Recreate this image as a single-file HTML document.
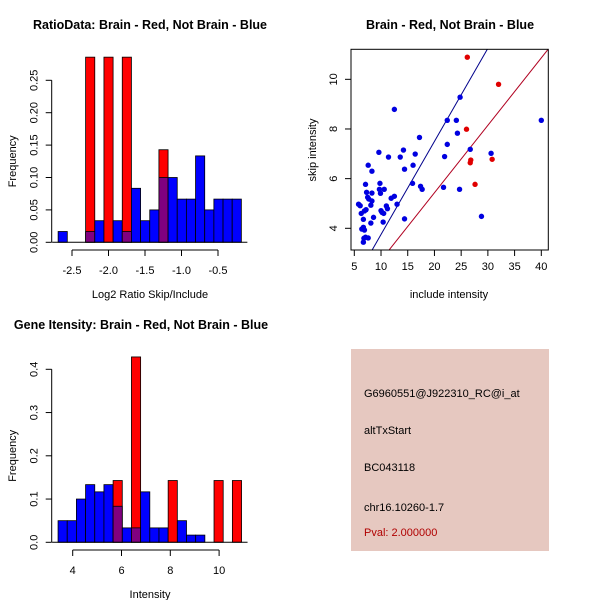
<!DOCTYPE html>
<html><head><meta charset="utf-8"><style>
body{margin:0;background:#fff}
svg{display:block;font-family:"Liberation Sans",sans-serif}
</style></head><body>
<svg id="c" width="600" height="600" xmlns="http://www.w3.org/2000/svg">
<rect x="0" y="0" width="600" height="600" fill="#fff"/>
<text x="150" y="29" text-anchor="middle" font-size="12.5" font-weight="bold">RatioData: Brain - Red, Not Brain - Blue</text>
<text x="450" y="29" text-anchor="middle" font-size="12.5" font-weight="bold">Brain - Red, Not Brain - Blue</text>
<text x="141" y="329" text-anchor="middle" font-size="12.5" font-weight="bold">Gene Itensity: Brain - Red, Not Brain - Blue</text>
<g id="h1"></g>
<g id="h2"></g>
<g id="sc"></g>
<g>
<rect x="351" y="349" width="198" height="202" fill="#e6c8c0"/>
<text x="364" y="397" font-size="11">G6960551@J922310_RC@i_at</text>
<text x="364" y="434" font-size="11">altTxStart</text>
<text x="364" y="471" font-size="11">BC043118</text>
<text x="364" y="511" font-size="11">chr16.10260-1.7</text>
<text x="364" y="536" font-size="11" fill="#b00000">Pval: 2.000000</text>
</g>
</svg>
<script>
const ratioBlue=[1/60,0,0,1/60,2/60,0,2/60,1/60,5/60,2/60,3/60,6/60,6/60,4/60,4/60,8/60,3/60,4/60,4/60,4/60];
const ratioRed=[0,0,0,2/7,0,2/7,0,2/7,0,0,0,1/7,0,0,0,0,0,0,0,0];
const ratioStart=-2.69, ratioWidth=0.1255;
const ratioXTicks=[-2.5,-2.0,-1.5,-1.0,-0.5];
const ratioYTicks=[0,0.05,0.10,0.15,0.20,0.25];
const intBlue=[3/60,3/60,6/60,8/60,7/60,8/60,5/60,2/60,2/60,7/60,2/60,2/60,0,3/60,1/60,1/60,0,0,0,0];
const intRed=[0,0,0,0,0,0,1/7,0,3/7,0,0,0,1/7,0,0,0,0,1/7,0,1/7];
const intStart=3.4, intWidth=0.376;
const intXTicks=[4,6,8,10];
const intYTicks=[0,0.1,0.2,0.3,0.4];
const scXTicks=[5,10,15,20,25,30,35,40];
const scYTicks=[4,6,8,10];
const redX=[26.15,32.0,26.0,26.8,26.7,30.8,27.6];
const redY=[10.89,9.80,7.99,6.75,6.64,6.78,5.77];
const blueX=[5.8,6.1,6.3,6.7,6.4,6.7,6.9,6.8,7.1,7.6,6.7,7.1,7.3,7.5,7.7,7.6,8.3,8.3,8.3,8.1,6.9,7.2,8.1,8.6,9.6,9.8,9.7,9.9,10.6,10.0,10.2,10.5,10.4,11.0,11.2,11.4,11.9,12.5,12.5,13.0,13.6,14.2,14.4,14.4,15.9,16.0,16.4,17.2,17.4,17.7,21.7,21.9,22.4,22.4,24.1,24.3,24.8,24.7,26.7,30.6,28.8,40.0];
const blueY=[4.97,4.91,4.60,4.36,3.97,4.04,3.93,3.60,3.64,3.61,3.44,5.77,5.45,5.25,5.18,6.54,6.30,5.42,5.10,4.93,4.70,4.75,4.21,4.44,7.06,5.81,5.57,5.41,5.57,4.71,4.64,4.60,4.25,4.90,4.79,6.87,5.21,5.29,8.79,4.97,6.87,7.15,6.38,4.38,5.81,6.54,6.99,7.66,5.69,5.57,5.65,6.89,7.38,8.35,8.35,7.83,9.28,5.57,7.18,7.02,4.48,8.35];
const blueSlope=0.375, redSlope=0.2716;

const NS='http://www.w3.org/2000/svg';
function mk(p,tag,a){const e=document.createElementNS(NS,tag);for(const k in a)e.setAttribute(k,a[k]);p.appendChild(e);return e;}

function hist(g,blue,red,start,width,xt,yt,sx,sy,x0,yBase,xAxisY,xlab,fmt){
  for(let i=0;i<blue.length;i++){
    const a=sx(start+i*width), b=sx(start+(i+1)*width);
    const bv=blue[i], rv=red[i];
    if(rv>0){const r=mk(g,'rect',{x:a,y:sy(rv),width:b-a,height:yBase-sy(rv),fill:'#ff0000',stroke:'#000','stroke-width':0.8});
      
      }
    if(bv>0){
      const bb=mk(g,'rect',{x:a,y:sy(bv),width:b-a,height:yBase-sy(bv),fill:(rv>0?'#800080':'#0000ff'),stroke:'#000','stroke-width':0.8});
      
      }
  }
  mk(g,'line',{x1:sx(start)-6,x2:sx(start+blue.length*width)+6,y1:yBase,y2:yBase,stroke:'#000','stroke-width':1});
  mk(g,'line',{x1:x0,x2:x0,y1:sy(yt[0]),y2:sy(yt[yt.length-1]),stroke:'#000'});
  yt.forEach(v=>{mk(g,'line',{x1:x0-6,x2:x0,y1:sy(v),y2:sy(v),stroke:'#000'});
    const t=mk(g,'text',{x:0,y:0,transform:`translate(${x0-14},${sy(v)}) rotate(-90)`,'text-anchor':'middle','font-size':11});
    t.textContent=fmt(v);
    
    });
  mk(g,'line',{x1:sx(xt[0]),x2:sx(xt[xt.length-1]),y1:xAxisY,y2:xAxisY,stroke:'#000'});
  xt.forEach(v=>{mk(g,'line',{x1:sx(v),x2:sx(v),y1:xAxisY,y2:xAxisY+6,stroke:'#000'});
    const t=mk(g,'text',{x:sx(v),y:xAxisY+24,'text-anchor':'middle','font-size':11});
    t.textContent=(v%1===0&&xt.some(q=>q%1!==0))?v.toFixed(1):String(v);
    
    });
  const xl=mk(g,'text',{x:150,y:xAxisY+48,'text-anchor':'middle','font-size':11});
  xl.textContent=xlab;
  
  
  const yl=mk(g,'text',{x:0,y:0,transform:`translate(16,${(sy(yt[0])+sy(yt[yt.length-1]))/2}) rotate(-90)`,'text-anchor':'middle','font-size':11});
  yl.textContent='Frequency';
  
  
}
hist(document.getElementById('h1'),ratioBlue,ratioRed,ratioStart,ratioWidth,ratioXTicks,ratioYTicks,
  v=>72+(v+2.5)*73, v=>242.3-v*648, 51.7,242.3,250,'Log2 Ratio Skip/Include',v=>v.toFixed(2));
hist(document.getElementById('h2'),intBlue,intRed,intStart,intWidth,intXTicks,intYTicks,
  v=>72.7+(v-4)*24.4, v=>542.3-v*432.5, 51.7,542.3,550,'Intensity',v=>v===0?'0.0':String(v));

(function(){
  const g=document.getElementById('sc');
  const sx=v=>354.3+(v-5)*5.343, sy=v=>228.3-(v-4)*24.83;
  const L=351,R=548.3,T=49.3,B=250;
  const cp=mk(g,'clipPath',{id:'cl'});mk(cp,'rect',{x:L,y:T,width:R-L,height:B-T});
  const lg=mk(g,'g',{'clip-path':'url(#cl)'});
  const bl=mk(lg,'line',{x1:sx(0),y1:sy(0),x2:sx(50),y2:sy(50*blueSlope),stroke:'#00008b','stroke-width':1});
  
  
  const rl=mk(lg,'line',{x1:sx(0),y1:sy(0),x2:sx(50),y2:sy(50*redSlope),stroke:'#b00020','stroke-width':1});
  
  
  blueX.forEach((x,i)=>{const c=mk(g,'circle',{cx:sx(x),cy:sy(blueY[i]),r:2.7,fill:'#0000e0'});
    
    });
  redX.forEach((x,i)=>{const c=mk(g,'circle',{cx:sx(x),cy:sy(redY[i]),r:2.7,fill:'#e00000'});
    
    });
  mk(g,'rect',{x:L,y:T,width:R-L,height:B-T,fill:'none',stroke:'#000'});
  mk(g,'line',{x1:sx(5),x2:sx(40),y1:B,y2:B,stroke:'#000'});
  scXTicks.forEach(v=>{mk(g,'line',{x1:sx(v),x2:sx(v),y1:B,y2:B+6,stroke:'#000'});
    const t=mk(g,'text',{x:sx(v),y:B+20,'text-anchor':'middle','font-size':11});t.textContent=v;
    
    });
  scYTicks.forEach(v=>{mk(g,'line',{x1:L-6,x2:L,y1:sy(v),y2:sy(v),stroke:'#000'});
    const t=mk(g,'text',{x:0,y:0,transform:`translate(${L-14},${sy(v)}) rotate(-90)`,'text-anchor':'middle','font-size':11});t.textContent=v;
    
    });
  const xl=mk(g,'text',{x:449,y:298,'text-anchor':'middle','font-size':11});xl.textContent='include intensity';
  
  
  const yl=mk(g,'text',{x:0,y:0,transform:'translate(316,150) rotate(-90)','text-anchor':'middle','font-size':11});yl.textContent='skip intensity';
  
  
})();
</script>
</body></html>
